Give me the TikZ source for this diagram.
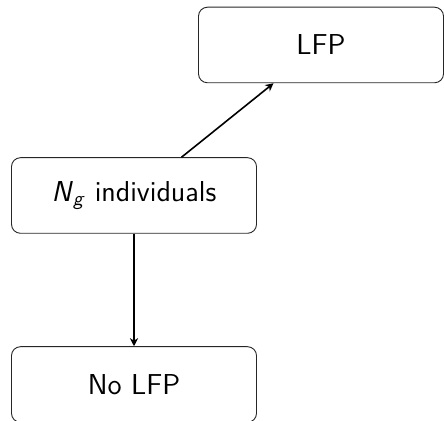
\documentclass[tikz,border=0pt]{standalone}
\usetikzlibrary{arrows.meta}
\begin{document}
\begin{tikzpicture}[x=0.5pt,y=-0.5pt,
  box/.style={draw=black!85, line width=0.45pt, rounded corners=4.5pt, inner sep=0pt,
    minimum width=122.5pt, minimum height=37.8pt, font=\sffamily\Large},
  arr/.style={-{Stealth[length=4pt,width=4pt,inset=1.2pt]}, line width=0.8pt}]
\useasboundingbox (0,0) rectangle (444,421);
\node[box] (lfp) at (321,45) {LFP};
\node[box] (ng) at (134,195.5) {\textit{N}\textsubscript{\textit{g}}\ individuals};
\node[box] (nolfp) at (134,384.5) {No LFP};
\draw[arr] (ng) -- (lfp);
\draw[arr] (ng) -- (nolfp);
\end{tikzpicture}
\end{document}
